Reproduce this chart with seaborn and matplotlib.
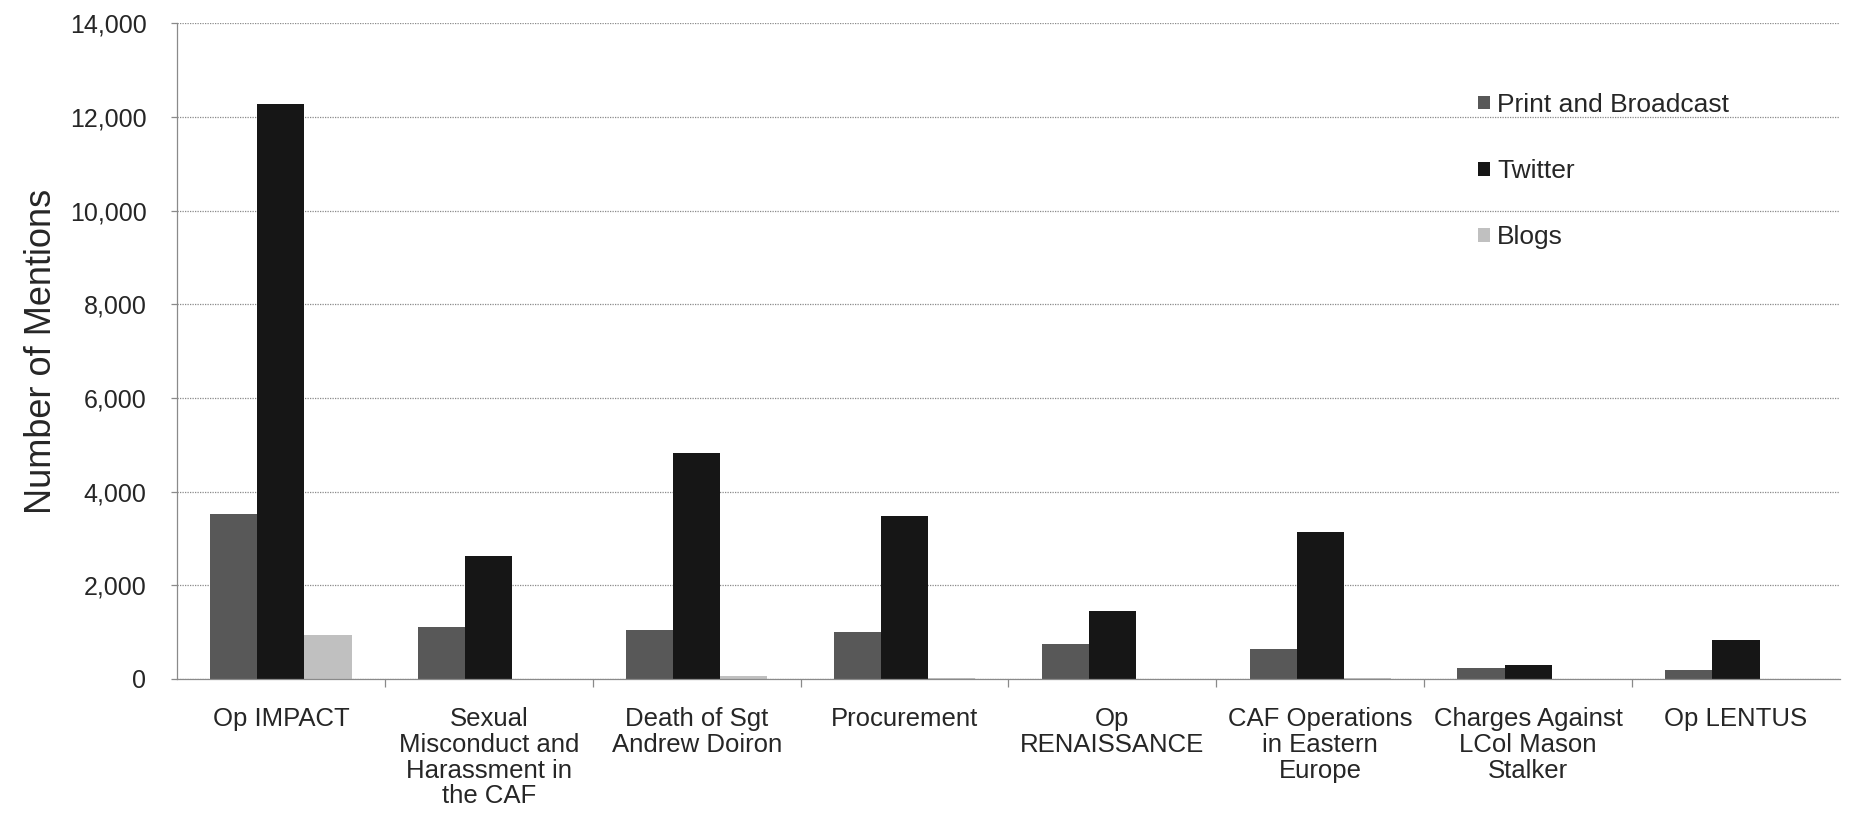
import matplotlib
matplotlib.use("Agg")
import matplotlib.pyplot as plt
from matplotlib.ticker import FixedLocator, FuncFormatter
import seaborn as sns
import pandas as pd

# Media mentions by topic and source
topics = [
    "Op IMPACT",
    "Sexual\nMisconduct and\nHarassment in\nthe CAF",
    "Death of Sgt\nAndrew Doiron",
    "Procurement",
    "Op\nRENAISSANCE",
    "CAF Operations\nin Eastern\nEurope",
    "Charges Against\nLCol Mason\nStalker",
    "Op LENTUS",
]
sources = ["Print and Broadcast", "Twitter", "Blogs"]
print_broadcast = [3530, 1120, 1040, 1000, 750, 630, 240, 200]
twitter = [12270, 2620, 4820, 3470, 1460, 3140, 290, 840]
blogs = [940, 0, 60, 30, 0, 20, 0, 0]
source_colors = ["#585858", "#161616", "#c0c0c0"]

rows = []
for src, vals in zip(sources, [print_broadcast, twitter, blogs]):
    for t, v in zip(topics, vals):
        rows.append({"topic": t, "source": src, "mentions": v})
df = pd.DataFrame(rows)

sns.set_style("white")
plt.rcParams["font.family"] = ["Liberation Sans", "DejaVu Sans"]

fig = plt.figure(figsize=(18.55, 8.15), dpi=100)
ax = fig.add_axes([0.0954, 0.1669, 0.8965, 0.8045])

sns.barplot(
    data=df, x="topic", y="mentions", hue="source",
    order=topics, hue_order=sources, palette=source_colors,
    width=0.68, saturation=1, linewidth=0, ax=ax, legend=True,
)

ax.set_ylim(0, 14000)
ax.set_xlim(-0.5, len(topics) - 0.5)
ax.yaxis.set_major_locator(FixedLocator(range(0, 14001, 2000)))
ax.yaxis.set_major_formatter(FuncFormatter(lambda v, p: f"{int(v):,}"))

# dotted horizontal gridlines
ax.set_axisbelow(True)
ax.grid(axis="y", linestyle=(0, (1, 1)), color="#8a8a8a", linewidth=0.9)
ax.grid(axis="x", visible=False)

for side in ["top", "right"]:
    ax.spines[side].set_visible(False)
for side in ["left", "bottom"]:
    ax.spines[side].set_linestyle((0, (1, 1)))
    ax.spines[side].set_color("#8a8a8a")
    ax.spines[side].set_linewidth(0.9)

# category separators as minor ticks on the x axis
ax.xaxis.set_minor_locator(FixedLocator([i + 0.5 for i in range(len(topics) - 1)]))
ax.tick_params(axis="x", which="major", length=0, pad=20, labelsize=18.5)
ax.tick_params(axis="x", which="minor", length=6, width=0.9, color="#8a8a8a", direction="out", bottom=True)
ax.tick_params(axis="y", which="major", length=4, width=0.9, color="#8a8a8a", direction="out",
               left=True, pad=18, labelsize=18)
for lbl in ax.get_xticklabels():
    lbl.set_linespacing(1.1)
    lbl.set_ha("center")

ax.set_xlabel("")
ax.set_ylabel("Number of Mentions", fontsize=26, labelpad=8)

handles, labels = ax.get_legend_handles_labels()
ax.legend(
    handles, labels, loc="upper left", bbox_to_anchor=(0.797, 0.886),
    bbox_transform=fig.transFigure, frameon=False, fontsize=19,
    handlelength=0.42, handleheight=0.42, handletextpad=0.28,
    labelspacing=1.6, borderpad=0, borderaxespad=0,
)

fig.savefig("out.png", dpi=100, facecolor="white")
